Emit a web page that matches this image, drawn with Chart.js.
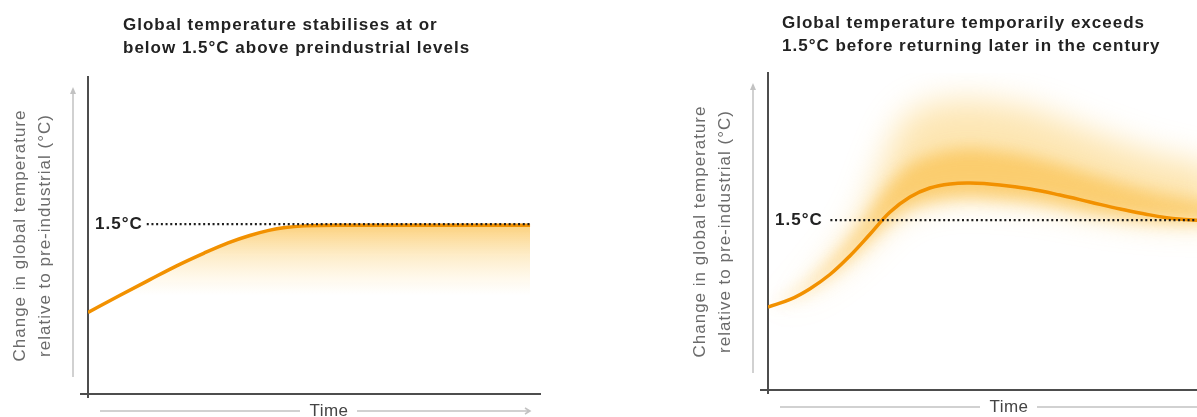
<!DOCTYPE html>
<html>
<head>
<meta charset="utf-8">
<script src="https://cdn.jsdelivr.net/npm/chart.js@4.4.1/dist/chart.umd.min.js"></script>
<style>
  html, body { margin: 0; padding: 0; background: #fff; overflow: hidden; }
  body { width: 1197px; height: 417px; position: relative; }
  .panel { position: absolute; width: 560px; height: 417px; }
  #leftPanel { left: 0; top: 0; }
  #rightPanel { left: 680px; top: -4px; }
</style>
</head>
<body>
<div class="panel" id="leftPanel"><canvas id="leftChart" width="560" height="417"></canvas></div>
<div class="panel" id="rightPanel"><canvas id="rightChart" width="560" height="417"></canvas></div>
<script>
// shared labels
const thresholdValue = 1.5;
const thresholdLabel = '1.5°C';
const yAxisLabel = ['Change in global temperature', 'relative to pre-industrial (°C)'];
const xAxisLabel = 'Time';

// left panel: rises then levels off at 1.5
const leftTitle = ['Global temperature stabilises at or', 'below 1.5°C above preindustrial levels'];
const leftTime = [0, 7, 13.7, 19.5, 25.7, 31, 35.8, 40, 43.6, 47.8, 55, 70, 85, 97.8];
const leftTemp = [0.72, 0.87, 1.01, 1.13, 1.245, 1.335, 1.40, 1.445, 1.47, 1.485, 1.49, 1.49, 1.49, 1.49];
const leftThresholdSpan = [13, 97.8];
const shadeFadeValue = 0.87;

// right panel: overshoot then back to 1.5
const rightTitle = ['Global temperature temporarily exceeds', '1.5°C before returning later in the century'];
const rightTime = [0, 4.9, 9.3, 13.7, 18.1, 22.6, 27.0, 31.4, 35.8, 40.3, 44.7, 51.3, 58.0, 64.6, 71.2, 77.9, 83.4, 87.8, 92.3, 96.7, 100];
const rightTemp = [0.733, 0.80, 0.895, 1.02, 1.184, 1.378, 1.572, 1.705, 1.784, 1.82, 1.828, 1.811, 1.775, 1.722, 1.661, 1.599, 1.555, 1.524, 1.506, 1.495, 1.49];
const rightThresholdSpan = [13.8, 100];

// uncertainty glow round the right curve
const glowTime = [0, 7.1, 13.7, 20.4, 24.8, 29.2, 33.6, 42.5, 51.3, 60.2, 73.5, 84.5, 94.9, 100];
const glowOuterTop = [0.733, 0.866, 1.131, 1.502, 1.943, 2.341, 2.491, 2.562, 2.535, 2.456, 2.252, 2.102, 2.005, 1.961];
const glowInnerTop = [0.733, 0.892, 1.131, 1.449, 1.714, 1.917, 2.04, 2.133, 2.111, 2.04, 1.881, 1.758, 1.678, 1.661];
const glowBottom = [0.733, 0.839, 1.016, 1.245, 1.422, 1.563, 1.643, 1.70, 1.687, 1.652, 1.555, 1.502, 1.484, 1.484];

const FONT = '"Liberation Sans", Arial, Helvetica, sans-serif';
const ORANGE = '#f29100';
const AXIS = '#4d4d4d';
const ARROW = '#c2c2c2';

const pts = (xs, ys) => xs.map((x, i) => ({ x, y: ys[i] }));

function plateauShade(chart) {
    const { ctx, chartArea, scales } = chart;
    if (!chartArea) return 'rgba(0,0,0,0)';
    const y = scales.y;
    const g = ctx.createLinearGradient(0, y.getPixelForValue(thresholdValue), 0, y.getPixelForValue(shadeFadeValue));
    g.addColorStop(0, 'rgba(249,178,40,0.62)');
    g.addColorStop(0.45, 'rgba(251,196,80,0.3)');
    g.addColorStop(1, 'rgba(253,215,130,0)');
    return g;
}

/*
 * blur the glow fills: filler paints in beforeDatasetDraw, so the filter
 * has to be set before that, i.e. after the previous dataset
 */
function setBlur(chart, meta) {
    const b = meta && chart.data.datasets[meta.index].blur;
    chart.ctx.filter = b ? 'blur(' + b + 'px)' : 'none';
}
const glowBlur = {
    id: 'glowBlur',
    beforeDatasetsDraw(chart) {
        const seq = chart.getSortedVisibleDatasetMetas().slice().reverse();
        setBlur(chart, seq[0]);
    },
    afterDatasetDraw(chart, args) {
        const seq = chart.getSortedVisibleDatasetMetas().slice().reverse();
        const p = seq.findIndex(m => m.index === args.index);
        setBlur(chart, seq[p + 1]);
    },
    afterDatasetsDraw(chart) { chart.ctx.filter = 'none'; }
};

// titles, 1.5°C label, grey arrows and the "Time" label
function decor(title, titleDx, titleBase) {
    return {
        id: 'decor',
        beforeDraw(chart) { chart.ctx.letterSpacing = '1px'; },
        afterDraw(chart) {
            const { ctx, chartArea: a, scales: { y } } = chart;
            ctx.save();
            ctx.fillStyle = '#222';
            ctx.font = 'bold 17px ' + FONT;
            ctx.textAlign = 'left';
            ctx.textBaseline = 'alphabetic';
            title.forEach((t, i) => ctx.fillText(t, a.left + titleDx, titleBase[i]));

            ctx.textBaseline = 'middle';
            ctx.fillText(thresholdLabel, a.left + 7, y.getPixelForValue(thresholdValue));

            // y arrow
            ctx.strokeStyle = ARROW;
            ctx.fillStyle = ARROW;
            ctx.lineWidth = 1.5;
            const ax = a.left - 15;
            ctx.beginPath();
            ctx.moveTo(ax, a.top + 15);
            ctx.lineTo(ax, a.bottom - 17);
            ctx.stroke();
            ctx.beginPath();
            ctx.moveTo(ax, a.top + 10);
            ctx.lineTo(ax - 3, a.top + 17);
            ctx.lineTo(ax + 3, a.top + 17);
            ctx.closePath();
            ctx.fill();

            // time arrow
            const ty = a.bottom + 17;
            ctx.beginPath();
            ctx.moveTo(a.left + 12, ty);
            ctx.lineTo(a.left + 212, ty);
            ctx.moveTo(a.left + 269, ty);
            ctx.lineTo(a.left + 442, ty);
            ctx.moveTo(a.left + 437, ty - 3);
            ctx.lineTo(a.left + 442, ty);
            ctx.lineTo(a.left + 437, ty + 3);
            ctx.stroke();

            ctx.letterSpacing = '0.5px';
            ctx.fillStyle = '#444';
            ctx.font = '17px ' + FONT;
            ctx.textAlign = 'center';
            ctx.fillText(xAxisLabel, a.left + 241, ty);
            ctx.restore();
        }
    };
}

function makeChart(id, datasets, title, titleDx, titleBase) {
    return new Chart(document.getElementById(id), {
        type: 'line',
        data: { datasets },
        options: {
            responsive: false,
            animation: false,
            events: [],
            layout: { padding: { top: 77, right: 20, bottom: 19, left: 0 } },
            plugins: {
                legend: { display: false },
                title: { display: false },
                tooltip: { enabled: false }
            },
            elements: { point: { radius: 0 } },
            scales: {
                x: {
                    type: 'linear',
                    min: 0,
                    max: 100,
                    afterBuildTicks: s => { s.ticks = [{ value: 0 }]; },
                    ticks: { display: false },
                    grid: { drawOnChartArea: false, drawTicks: true, tickLength: 4, color: AXIS, lineWidth: 2 },
                    border: { display: true, color: AXIS, width: 2 }
                },
                y: {
                    min: 0,
                    max: 2.8,
                    afterBuildTicks: s => { s.ticks = [{ value: 0 }]; },
                    ticks: { display: false },
                    grid: { drawOnChartArea: false, drawTicks: true, tickLength: 8, color: AXIS, lineWidth: 2 },
                    border: { display: true, color: AXIS, width: 2 },
                    title: {
                        display: true,
                        text: yAxisLabel,
                        color: '#6b6b6b',
                        font: { family: FONT, size: 17, lineHeight: '25px' },
                        padding: { top: 7.5, bottom: 22.5 }
                    }
                }
            }
        },
        plugins: [glowBlur, decor(title, titleDx, titleBase)]
    });
}

const thresholdStyle = {
    borderColor: '#1e1e1e',
    borderWidth: 2.2,
    borderDash: [2, 2.7],
    borderCapStyle: 'butt',
    fill: false,
    order: 0
};

makeChart('leftChart', [
    Object.assign({ data: pts(leftThresholdSpan, [thresholdValue, thresholdValue]) }, thresholdStyle),
    {
        data: pts(leftTime, leftTemp),
        borderColor: ORANGE,
        borderWidth: 3.5,
        cubicInterpolationMode: 'monotone',
        fill: 'origin',
        backgroundColor: c => plateauShade(c.chart),
        order: 1
    }
], leftTitle, 35, [30, 53]);

makeChart('rightChart', [
    Object.assign({ data: pts(rightThresholdSpan, [thresholdValue, thresholdValue]) }, thresholdStyle),
    {
        data: pts(rightTime, rightTemp),
        borderColor: ORANGE,
        borderWidth: 3.5,
        tension: 0.4,
        fill: false,
        order: 1
    },
    {
        data: pts(glowTime, glowBottom),
        borderWidth: 0,
        borderColor: 'rgba(0,0,0,0)',
        tension: 0.4,
        fill: false,
        order: 6
    },
    {
        data: pts(glowTime, glowOuterTop),
        borderWidth: 0,
        borderColor: 'rgba(0,0,0,0)',
        backgroundColor: 'rgba(250,188,55,0.38)',
        tension: 0.4,
        fill: 2,
        blur: 16,
        order: 5
    },
    {
        data: pts(glowTime, glowInnerTop),
        borderWidth: 0,
        borderColor: 'rgba(0,0,0,0)',
        backgroundColor: 'rgba(249,180,40,0.5)',
        tension: 0.4,
        fill: 2,
        blur: 8,
        order: 4
    }
], rightTitle, 14, [32, 55]);
</script>
</body>
</html>
